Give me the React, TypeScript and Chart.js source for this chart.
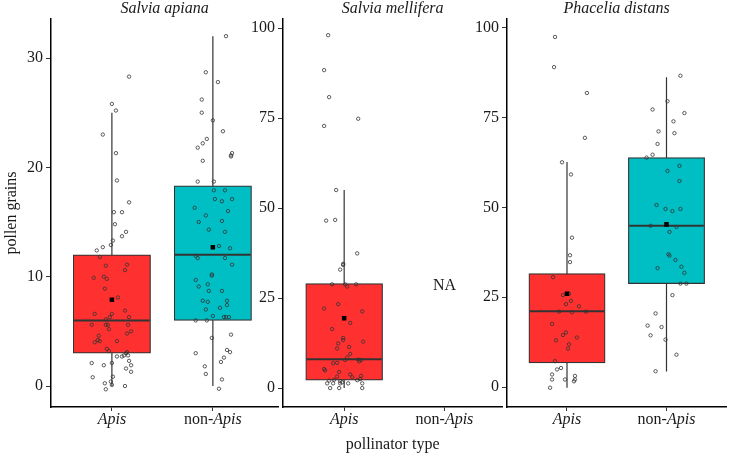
import React, { useEffect, useRef } from "react";
import { Chart, registerables } from "chart.js";

Chart.register(...registerables);

// ---------- data ----------
const categories = ["Apis", "non-Apis"];
const panelTitles = ["Salvia apiana", "Salvia mellifera", "Phacelia distans"];
const xAxisTitle = "pollinator type";
const yAxisTitle = "pollen grains";
const naLabel = "NA";

const yTicksApiana = [0, 10, 20, 30];
const yTicksMellifera = [0, 25, 50, 75, 100];
const yTicksDistans = [0, 25, 50, 75, 100];

// box stats: [lower whisker, Q1, median, Q3, upper whisker]
const apianaApisBox = [0, 3.0, 6.0, 12.0, 25.0];
const apianaNonApisBox = [0, 6.0, 12.0, 18.3, 32.0];
const melliferaApisBox = [0, 2.2, 8.0, 29.0, 55.0];
const distansApisBox = [-0.2, 6.7, 21.1, 31.6, 62.7];
const distansNonApisBox = [4.3, 28.8, 44.9, 63.9, 86.3];

const apianaMeans = [7.9, 12.7];
const melliferaMeans = [19.4];
const distansMeans = [26.0, 45.3];

// jittered observations (values) and their horizontal jitter (category units)
const apianaApisY = [28.3, 25.8, 25.2, 23.0, 21.3, 18.8, 16.8, 15.9, 15.9, 14.8, 14.1, 13.7, 13.3, 12.9, 12.7, 12.4, 11.8, 11.0, 11.1, 10.6, 9.9, 10.0, 9.8, 8.9, 8.1, 6.9, 6.6, 6.6, 6.3, 6.3, 6.1, 5.6, 5.6, 5.6, 5.6, 5.2, 5.0, 4.8, 4.6, 4.2, 4.1, 4.0, 4.1, 3.4, 3.2, 3.1, 3.0, 2.8, 2.7, 2.7, 2.8, 2.3, 2.1, 2.1, 1.9, 1.9, 1.6, 1.3, 0.85, 0.8, 0.25, 0.4, 0.1, 0.0, -0.3];
const apianaApisJitter = [0.17, 0, 0.04, -0.09, 0.04, 0.05, 0.17, 0.02, 0.1, 0.03, 0.14, 0.1, 0.01, -0.01, -0.09, -0.15, -0.12, -0.06, 0.15, 0.13, -0.18, -0.08, -0.05, -0.07, 0.06, 0.13, -0.17, 0, 0.17, -0.02, -0.06, -0.2, -0.06, -0.04, 0.16, -0.03, 0.19, 0.15, -0.13, -0.14, -0.12, -0.17, 0.05, -0.05, -0.03, 0.15, 0.14, 0.16, 0.05, 0.1, 0.12, 0.17, -0.2, 0, 0.19, -0.08, 0.14, 0.19, 0.01, -0.19, -0.07, -0.01, 0, 0.13, -0.06];

const apianaNonApisY = [32.0, 28.7, 27.8, 26.2, 25.0, 24.3, 23.3, 22.6, 22.2, 21.8, 21.3, 21.1, 21.0, 20.6, 18.7, 18.7, 17.9, 17.9, 17.1, 17.1, 16.9, 16.3, 16.0, 15.6, 15.0, 15.1, 14.3, 14.1, 12.8, 12.6, 11.9, 11.7, 11.7, 11.1, 10.2, 10.1, 9.7, 9.3, 9.1, 8.7, 8.7, 7.8, 7.7, 7.8, 7.4, 7.0, 7.15, 6.4, 6.3, 6.3, 6.3, 6.0, 6.0, 4.4, 4.7, 3.3, 3.1, 3.0, 2.6, 2.2, 1.8, 1.1, 0.6, -0.25];
const apianaNonApisJitter = [0.13, -0.07, 0.05, -0.11, -0.11, 0, 0.1, -0.06, -0.1, -0.15, 0.19, 0.18, 0.18, -0.1, -0.15, 0.01, 0.01, 0.12, 0.02, 0.19, 0.09, -0.18, 0.15, -0.07, -0.14, 0.09, -0.04, 0.12, 0.06, 0.17, -0.17, -0.15, 0.12, 0.19, -0.01, -0.01, -0.17, -0.05, -0.14, -0.04, 0.09, -0.1, -0.05, 0.14, 0.14, -0.07, 0.07, 0, 0.11, 0.13, 0.16, -0.17, -0.06, -0.01, 0.18, 0.14, 0.17, -0.17, 0.11, 0.08, -0.08, -0.07, 0.09, 0.06];

const melliferaApisY = [98.0, 88.3, 80.8, 74.8, 72.8, 55.0, 46.5, 46.7, 37.4, 34.5, 34.2, 32.9, 28.8, 28.8, 28.2, 28.8, 23.3, 22.1, 21.3, 18.1, 16.4, 13.9, 13.3, 12.4, 12.9, 11.4, 11.0, 9.5, 8.5, 7.8, 7.9, 7.8, 7.4, 6.9, 7.0, 5.3, 4.9, 4.5, 3.8, 3.4, 3.0, 3.2, 2.3, 2.5, 2.2, 2.1, 1.9, 1.3, 1.3, 1.3, 1.6, 1.3, 1.3, 0.0, 0.0, 0.0];
const melliferaApisJitter = [-0.16, -0.2, -0.15, 0.14, -0.2, -0.08, -0.18, -0.09, 0.13, -0.01, -0.01, -0.04, -0.12, 0.01, 0.03, 0.12, -0.06, -0.2, 0.18, 0.06, -0.12, -0.01, -0.01, -0.06, 0.19, 0.05, -0.07, 0.06, 0.03, 0.01, 0.14, 0.17, 0.15, -0.11, -0.07, -0.2, -0.19, -0.05, 0.06, 0.17, 0.08, -0.07, -0.1, 0.16, 0.13, -0.15, -0.04, -0.17, -0.11, -0.04, -0.02, 0.04, 0.18, -0.14, -0.05, 0.18];

const distansApisY = [97.5, 89.1, 81.9, 69.4, 62.6, 59.2, 41.6, 36.7, 34.8, 30.6, 26.0, 25.6, 24.0, 23.1, 22.5, 21.0, 20.8, 21.0, 17.6, 15.2, 14.5, 13.0, 13.8, 11.9, 10.7, 7.2, 5.3, 4.9, 3.5, 3.1, 2.1, 2.1, 2.1, 1.6, -0.2];
const distansApisJitter = [-0.12, -0.13, 0.2, 0.18, -0.05, 0.04, 0.05, 0.03, 0.03, -0.14, 0.02, -0.04, 0.04, -0.01, 0.12, -0.08, 0.05, 0.19, -0.15, -0.01, -0.04, -0.11, 0.1, 0.02, 0.01, -0.12, -0.06, -0.1, -0.15, 0.08, -0.15, -0.02, 0.08, 0.07, -0.17];

const distansNonApisY = [86.7, 79.6, 77.3, 76.3, 74.0, 71.2, 70.7, 67.7, 64.7, 63.9, 61.6, 60.2, 57.4, 50.7, 49.6, 49.0, 49.6, 44.9, 44.6, 43.2, 37.0, 36.6, 35.4, 33.1, 33.5, 31.8, 28.8, 28.8, 25.6, 20.5, 17.1, 16.7, 14.4, 13.2, 9.0, 4.4];
const distansNonApisJitter = [0.14, 0.01, -0.14, 0.18, 0.07, -0.08, 0.08, -0.09, -0.14, -0.2, 0.13, 0.01, 0.13, -0.1, -0.01, 0.06, 0.14, -0.16, 0.1, 0.03, 0.02, 0.03, 0.09, -0.09, 0.15, 0.18, 0.14, 0.2, 0.06, -0.11, -0.19, -0.05, -0.16, -0.01, 0.1, -0.11];

const apisColor = "#FF3030";
const nonApisColor = "#00BFC4";

// ---------- styling ----------
const FONT = '"Liberation Serif", "Times New Roman", serif';
const TEXT = "#1a1a1a";
const LINE = "#333333";
const BOX_HALF = 0.375;

type Group = { cat: number; box: number[]; mean: number; ys: number[]; jit: number[]; color: string };

function makeDatasets(groups: Group[], barPx: number) {
  const ds: any[] = [];
  groups.forEach((g) => {
    const [lo, q1, med, q3, hi] = g.box;
    ds.push({
      type: "line",
      data: [{ x: g.cat, y: lo }, { x: g.cat, y: hi }],
      borderColor: LINE,
      borderWidth: 1.2,
      pointRadius: 0,
      order: 5,
    });
    ds.push({
      type: "bar",
      data: [{ x: g.cat, y: [q1, q3] }],
      backgroundColor: g.color,
      borderColor: LINE,
      borderWidth: 1.2,
      borderSkipped: false,
      barThickness: barPx,
      grouped: false,
      order: 4,
    });
    ds.push({
      type: "line",
      data: [{ x: g.cat - BOX_HALF, y: med }, { x: g.cat + BOX_HALF, y: med }],
      borderColor: LINE,
      borderWidth: 2,
      pointRadius: 0,
      order: 3,
    });
    ds.push({
      type: "scatter",
      data: g.ys.map((y, i) => ({ x: g.cat + g.jit[i], y })),
      pointRadius: 1.7,
      borderWidth: 0.8,
      borderColor: LINE,
      backgroundColor: "rgba(0,0,0,0)",
      order: 2,
    });
    ds.push({
      type: "scatter",
      data: [{ x: g.cat, y: g.mean }],
      pointStyle: "rect",
      pointRadius: 3.2,
      backgroundColor: "#000",
      borderColor: "#000",
      borderWidth: 0,
      order: 1,
    });
  });
  return ds;
}

const textPlugin = {
  id: "panelText",
  afterDraw(chart: any, _args: any, opts: any) {
    const { ctx, chartArea, scales } = chart;
    ctx.save();
    ctx.fillStyle = TEXT;
    // panel title
    ctx.font = `italic 16px ${FONT}`;
    ctx.textAlign = "center";
    ctx.textBaseline = "alphabetic";
    ctx.fillText(opts.title, (chartArea.left + chartArea.right) / 2, 12.5);
    // x tick labels with italic genus
    const baseY = chartArea.bottom + 17;
    categories.forEach((c, i) => {
      const cx = scales.x.getPixelForValue(i);
      const parts: [string, boolean][] = c.startsWith("non-")
        ? [["non-", false], [c.slice(4), true]]
        : [[c, true]];
      const widths = parts.map(([t, it]) => {
        ctx.font = `${it ? "italic " : ""}16px ${FONT}`;
        return ctx.measureText(t).width;
      });
      let x = cx - widths.reduce((a, b) => a + b, 0) / 2;
      ctx.textAlign = "left";
      parts.forEach(([t, it], k) => {
        ctx.font = `${it ? "italic " : ""}16px ${FONT}`;
        ctx.fillText(t, x, baseY);
        x += widths[k];
      });
    });
    if (opts.na) {
      ctx.font = `16px ${FONT}`;
      ctx.textAlign = "center";
      ctx.textBaseline = "middle";
      ctx.fillText(naLabel, scales.x.getPixelForValue(opts.na.x), scales.y.getPixelForValue(opts.na.y));
    }
    ctx.restore();
  },
};

type PanelProps = {
  left: number;
  width: number;
  yAxisWidth: number;
  xMin: number;
  xMax: number;
  yMin: number;
  yMax: number;
  yTicks: number[];
  title: string;
  groups: Group[];
  showYTitle?: boolean;
  showXTitle?: boolean;
  na?: { x: number; y: number };
};

const HEIGHT = 453;
const TOP = 19;
const XAXIS_H = 46;

function Panel(p: PanelProps) {
  const ref = useRef<HTMLCanvasElement>(null);
  useEffect(() => {
    if (!ref.current) return;
    const plotW = p.width - p.yAxisWidth;
    const barPx = (2 * BOX_HALF * plotW) / (p.xMax - p.xMin);
    const chart = new Chart(ref.current, {
      type: "bar",
      data: { datasets: makeDatasets(p.groups, barPx) },
      plugins: [textPlugin],
      options: {
        responsive: false,
        maintainAspectRatio: false,
        animation: false,
        events: [],
        layout: { padding: { top: TOP, left: 0, right: 0, bottom: 0 } },
        plugins: {
          legend: { display: false },
          tooltip: { enabled: false },
          title: { display: false },
          panelText: { title: p.title, na: p.na },
        } as any,
        scales: {
          x: {
            type: "linear",
            min: p.xMin,
            max: p.xMax,
            offset: false,
            afterBuildTicks: (s: any) => {
              s.ticks = categories.map((_, i) => ({ value: i }));
            },
            afterFit: (s: any) => {
              s.height = XAXIS_H;
            },
            grid: {
              display: true,
              offset: false,
              drawOnChartArea: false,
              drawTicks: true,
              tickLength: 4,
              tickColor: LINE,
              tickWidth: 1,
            },
            border: { display: true, color: "#000", width: 1.5 },
            ticks: { callback: () => "", font: { family: FONT, size: 16 } },
            title: {
              display: !!p.showXTitle,
              text: xAxisTitle,
              color: TEXT,
              font: { family: FONT, size: 16, lineHeight: 1 },
              padding: { top: 0, bottom: 0 },
            },
          },
          y: {
            type: "linear",
            min: p.yMin,
            max: p.yMax,
            afterBuildTicks: (s: any) => {
              s.ticks = p.yTicks.map((v) => ({ value: v }));
            },
            afterFit: (s: any) => {
              s.width = p.yAxisWidth;
            },
            grid: {
              display: true,
              offset: false,
              drawOnChartArea: false,
              drawTicks: true,
              tickLength: 5,
              tickColor: LINE,
              tickWidth: 1,
            },
            border: { display: true, color: "#000", width: 1.5 },
            ticks: { color: TEXT, padding: 3, font: { family: FONT, size: 16 } },
            title: {
              display: !!p.showYTitle,
              text: yAxisTitle,
              color: TEXT,
              font: { family: FONT, size: 16, lineHeight: 1 },
              padding: { top: 4, bottom: 0 },
            },
          },
        },
      } as any,
    });
    return () => chart.destroy();
  }, []);
  return (
    <canvas
      ref={ref}
      width={p.width}
      height={HEIGHT}
      style={{ position: "absolute", left: p.left, top: 0, width: p.width, height: HEIGHT }}
    />
  );
}

export default function App() {
  return (
    <div style={{ position: "absolute", left: 0, top: 0, width: 731, height: HEIGHT, background: "#fff", overflow: "hidden" }}>
      <Panel
        left={0}
        width={283}
        yAxisWidth={51}
        xMin={-0.603}
        xMax={1.647}
        yMin={-1.92}
        yMax={33.57}
        yTicks={yTicksApiana}
        title={panelTitles[0]}
        showYTitle
        groups={[
          { cat: 0, box: apianaApisBox, mean: apianaMeans[0], ys: apianaApisY, jit: apianaApisJitter, color: apisColor },
          { cat: 1, box: apianaNonApisBox, mean: apianaMeans[1], ys: apianaNonApisY, jit: apianaNonApisJitter, color: nonApisColor },
        ]}
      />
      <Panel
        left={200}
        width={307}
        yAxisWidth={83}
        xMin={-0.61}
        xMax={1.576}
        yMin={-5.26}
        yMax={102.5}
        yTicks={yTicksMellifera}
        title={panelTitles[1]}
        showXTitle
        na={{ x: 1, y: 28.3 }}
        groups={[
          { cat: 0, box: melliferaApisBox, mean: melliferaMeans[0], ys: melliferaApisY, jit: melliferaApisJitter, color: apisColor },
        ]}
      />
      <Panel
        left={430}
        width={301}
        yAxisWidth={77}
        xMin={-0.603}
        xMax={1.6}
        yMin={-5.56}
        yMax={102.5}
        yTicks={yTicksDistans}
        title={panelTitles[2]}
        groups={[
          { cat: 0, box: distansApisBox, mean: distansMeans[0], ys: distansApisY, jit: distansApisJitter, color: apisColor },
          { cat: 1, box: distansNonApisBox, mean: distansMeans[1], ys: distansNonApisY, jit: distansNonApisJitter, color: nonApisColor },
        ]}
      />
    </div>
  );
}
